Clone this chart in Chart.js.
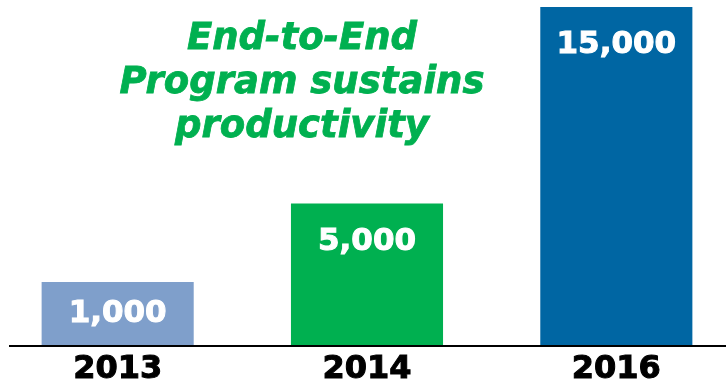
<!DOCTYPE html>
<html>
<head>
<meta charset="utf-8">
<title>End-to-End Program</title>
<script src="https://cdn.jsdelivr.net/npm/chart.js@4/dist/chart.umd.min.js"></script>
<style>
  html, body { margin: 0; padding: 0; background: #fff; overflow: hidden; }
  #wrap { position: relative; width: 726px; height: 386px; overflow: hidden; }
  #c { position: absolute; left: -7px; top: 0; }
  #headline {
    position: absolute; left: 102px; top: 15px; width: 400px;
    text-align: center; color: #00b050;
    font: italic bold 37px/44px "DejaVu Sans", sans-serif;
    -webkit-text-stroke: 0.8px #00b050;
    white-space: nowrap;
  }
</style>
</head>
<body>
<div id="wrap">
  <canvas id="c" width="760" height="386"></canvas>
  <div id="headline"></div>
</div>
<script>
  "use strict";

  var YEARS = ["2013", "2014", "2016"];
  var UNITS = [1000, 5000, 15000];
  var HEADLINE = ["End-to-End", "Program sustains", "productivity"];

  // value axis is hidden; its floor sits below zero so the short bars keep some body
  var AXIS_FLOOR = -2200;
  var AXIS_CEIL = 15000;

  var BAR_COLORS = ["#7f9fcb", "#00b050", "#0066a3"];
  var FONT = "'DejaVu Sans', Verdana, sans-serif";

  document.getElementById("headline").innerHTML = HEADLINE.join("<br>");

  function fmt(v) {
    return Number(v).toLocaleString("en-US");
  }

  // white value label inside each bar, plus the black baseline rule
  var barLabels = {
    id: "barLabels",
    afterDatasetsDraw: function (chart) {
      var ctx = chart.ctx;
      var area = chart.chartArea;
      var meta = chart.getDatasetMeta(0);
      ctx.save();
      ctx.font = "bold 31px " + FONT;
      ctx.fillStyle = "#fff";
      ctx.strokeStyle = "#fff";
      ctx.lineWidth = 1;
      ctx.textAlign = "center";
      ctx.textBaseline = "middle";
      meta.data.forEach(function (bar, i) {
        var mid = (bar.y + bar.base) / 2;
        var y = Math.min(mid, bar.y + 38);
        ctx.fillText(fmt(UNITS[i]), bar.x, y);
        ctx.strokeText(fmt(UNITS[i]), bar.x, y);
      });
      ctx.strokeStyle = "#000";
      ctx.lineWidth = 2;
      ctx.beginPath();
      ctx.moveTo(area.left + 16, area.bottom + 1);
      ctx.lineTo(chart.width, area.bottom + 1);
      ctx.stroke();
      ctx.restore();
    },
  };

  new Chart(document.getElementById("c"), {
    type: "bar",
    data: {
      labels: YEARS,
      datasets: [{
        data: UNITS,
        base: AXIS_FLOOR,
        backgroundColor: BAR_COLORS,
        borderWidth: 0,
        categoryPercentage: 1,
        barPercentage: 0.61,
      }],
    },
    options: {
      responsive: false,
      animation: false,
      devicePixelRatio: 1,
      layout: { padding: { top: 7, right: 12, left: 0, bottom: 0 } },
      plugins: {
        legend: { display: false },
        tooltip: { enabled: false },
      },
      scales: {
        x: {
          grid: { display: false, drawTicks: false },
          border: { display: false },
          ticks: {
            color: "#000",
            padding: 9,
            textStrokeColor: "#000",
            textStrokeWidth: 1,
            font: { family: FONT, size: 32, weight: "bold", lineHeight: 1 },
          },
          afterFit: function (scale) { scale.height = 41; },
        },
        y: {
          display: false,
          min: AXIS_FLOOR,
          max: AXIS_CEIL,
        },
      },
    },
    plugins: [barLabels],
  });
</script>
</body>
</html>
